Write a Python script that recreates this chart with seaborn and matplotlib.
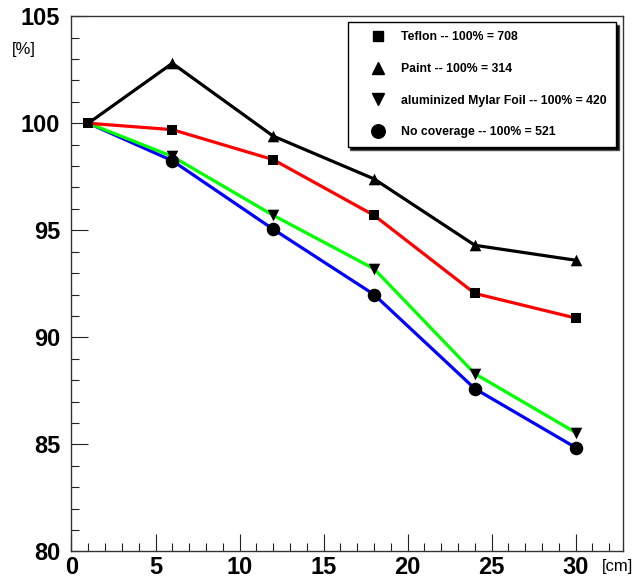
import pandas as pd
import seaborn as sns
import matplotlib.pyplot as plt
from matplotlib.lines import Line2D
from matplotlib.ticker import MultipleLocator

# distance [cm] and relative signal [%]
distance = [1, 6, 12, 18, 24, 30]
teflon = [100, 99.7, 98.3, 95.7, 92.05, 90.9]
paint = [100, 102.8, 99.4, 97.4, 94.3, 93.6]
mylar = [100, 98.45, 95.7, 93.2, 88.3, 85.55]
no_cov = [100, 98.25, 95.05, 92.0, 87.6, 84.85]

labels = ['Teflon -- 100% = 708', 'Paint -- 100% = 314',
          'aluminized Mylar Foil -- 100% = 420', 'No coverage -- 100% = 521']
series = [teflon, paint, mylar, no_cov]

rows = []
for lab, vals in zip(labels, series):
    for x, y in zip(distance, vals):
        rows.append({'x': x, 'y': y, 'Cover': lab})
df = pd.DataFrame(rows)

line_colors = {labels[0]: '#ff0000', labels[1]: '#000000',
               labels[2]: '#00ff00', labels[3]: '#0000ff'}
markers = {labels[0]: 's', labels[1]: '^', labels[2]: 'v', labels[3]: 'o'}
msizes = {labels[0]: 58, labels[1]: 70, labels[2]: 70, labels[3]: 95}

sns.set_style('white')
plt.rcParams['font.family'] = ['Liberation Sans', 'DejaVu Sans']
plt.rcParams['text.color'] = 'black'
plt.rcParams['xtick.color'] = 'black'
plt.rcParams['ytick.color'] = 'black'

fig = plt.figure(figsize=(6.44, 5.78), dpi=100)
ax = fig.add_axes([0.111, 0.046, 0.856, 0.926])

draw_order = [labels[3], labels[2], labels[0], labels[1]]
for lab in draw_order:
    sub = df[df['Cover'] == lab]
    sns.lineplot(data=sub, x='x', y='y', color=line_colors[lab], lw=2.3, ax=ax,
                 legend=False, zorder=2)
for lab in draw_order:
    sub = df[df['Cover'] == lab]
    # at the common start point only the Teflon square is visible
    if lab != labels[0]:
        sub = sub[sub['x'] > distance[0]]
    sns.scatterplot(data=sub, x='x', y='y', color='black', marker=markers[lab],
                    s=msizes[lab], edgecolor='black', linewidth=0, ax=ax,
                    legend=False, zorder=3)

ax.set_xlim(0, 32.8)
ax.set_ylim(80, 105)
ax.xaxis.set_major_locator(MultipleLocator(5))
ax.xaxis.set_minor_locator(MultipleLocator(1))
ax.yaxis.set_major_locator(MultipleLocator(5))
ax.yaxis.set_minor_locator(MultipleLocator(1))
ax.tick_params(which='both', direction='in', color='#222222', width=0.8,
               bottom=True, left=True, top=False, right=False)
ax.tick_params(which='major', length=12, labelsize=17, pad=3)
ax.tick_params(which='minor', length=6)
ax.tick_params(axis='y', which='major', length=12, pad=8)
ax.tick_params(axis='y', which='minor', length=6)
for t in ax.get_xticklabels() + ax.get_yticklabels():
    t.set_fontweight('bold')
for sp in ax.spines.values():
    sp.set_color('#333333')
    sp.set_linewidth(1.0)
ax.set_xlabel('')
ax.set_ylabel('')

fig.text(0.018, 0.915, '[%]', fontsize=12, ha='left', va='center')
fig.text(0.935, 0.02, '[cm]', fontsize=12, ha='left', va='center')

handles = [Line2D([], [], color='black', marker=markers[lab], linestyle='none',
                  markersize=msizes[lab] ** 0.5) for lab in labels]
leg = ax.legend(handles, labels, loc='upper left', bbox_to_anchor=(0.501, 0.989),
                frameon=True, fancybox=False, edgecolor='black', framealpha=1,
                shadow={'facecolor': 'black', 'alpha': 1}, borderpad=0.75,
                labelspacing=1.61, handlelength=3.4, handletextpad=0.25,
                borderaxespad=0, prop={'weight': 'bold', 'size': 8.8})
leg.get_frame().set_linewidth(1.0)

fig.savefig('out.png', dpi=100, facecolor='white')
